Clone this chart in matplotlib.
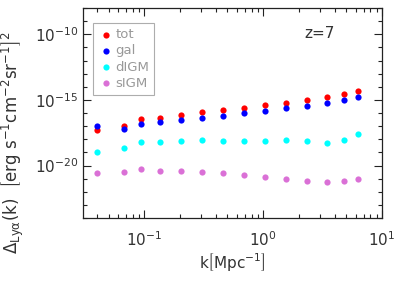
import numpy as np
import matplotlib.pyplot as plt
from matplotlib.ticker import LogLocator, FixedLocator, NullFormatter

# wavenumbers [Mpc^-1]
k = [0.040, 0.067, 0.093, 0.136, 0.205, 0.305, 0.456, 0.684,
     1.03, 1.55, 2.32, 3.45, 4.83, 6.34]

# log10 of Delta_Lya(k)
log_tot = [-17.27, -16.97, -16.46, -16.36, -16.16, -15.96, -15.78, -15.61,
           -15.40, -15.20, -15.00, -14.77, -14.55, -14.30]
log_gal = [-17.02, -17.20, -16.80, -16.72, -16.57, -16.39, -16.21, -16.01,
           -15.81, -15.61, -15.43, -15.20, -14.98, -14.75]
log_digm = [-18.96, -18.66, -18.23, -18.18, -18.11, -18.08, -18.11, -18.11,
            -18.11, -18.08, -18.11, -18.31, -18.08, -17.63]
log_sigm = [-20.58, -20.53, -20.28, -20.40, -20.43, -20.51, -20.58, -20.70,
            -20.86, -21.01, -21.19, -21.29, -21.21, -21.04]

labels = ['tot', 'gal', 'dIGM', 'sIGM']
colors = ['#ff0000', '#0000ff', '#00ffff', '#da70d6']

txt = '#333333'
plt.rcParams['font.family'] = 'DejaVu Sans'

fig = plt.figure(figsize=(3.95, 2.81), dpi=100)
ax = fig.add_axes([83/395, 1-218/281, (382-83)/395, (218-8)/281])

for lg, lab, c in zip([log_tot, log_gal, log_digm, log_sigm], labels, colors):
    ax.scatter(k, 10.0**np.array(lg), s=20, color=c, label=lab, linewidths=0, zorder=3)

ax.set_xscale('log')
ax.set_yscale('log')
ax.set_xlim(0.0305, 10)
ax.set_ylim(1e-24, 1e-8)

ax.yaxis.set_major_locator(FixedLocator([1e-20, 1e-15, 1e-10]))
ax.yaxis.set_minor_locator(FixedLocator([10.0**e for e in range(-24, -7)]))
ax.yaxis.set_minor_formatter(NullFormatter())
ax.xaxis.set_major_locator(LogLocator(base=10, numticks=10))
ax.xaxis.set_minor_locator(LogLocator(base=10, subs=np.arange(2, 10), numticks=20))
ax.xaxis.set_minor_formatter(NullFormatter())

ax.tick_params(which='both', direction='in', top=True, right=True, colors='#222222',
               labelcolor=txt, labelsize=11)
ax.tick_params(which='major', length=6, width=0.8)
ax.tick_params(which='minor', length=3, width=0.8)
ax.tick_params(axis='x', pad=9)
for s in ax.spines.values():
    s.set_linewidth(0.9)
    s.set_color('#222222')

ax.set_xlabel(r'k$\left[\mathrm{Mpc}^{-1}\right]$', fontsize=11, color=txt, labelpad=1)
ax.set_ylabel(r'$\Delta_{\mathrm{Ly\alpha}}$(k)  $\left[\mathrm{erg\ s^{-1}cm^{-2}sr^{-1}}\right]^2$',
              fontsize=12, color=txt)
ax.yaxis.set_label_coords(-0.19, 0.36)

ax.text(0.74, 0.855, 'z=7', transform=ax.transAxes, fontsize=11, color=txt)

leg = ax.legend(loc='upper left', bbox_to_anchor=(0.033, 0.93), fontsize=9.5,
                handletextpad=0.1, borderpad=0.4, labelspacing=0.25, borderaxespad=0,
                fancybox=False, handlelength=1.2, markerscale=1.0)
leg.get_frame().set_edgecolor('#999999')
leg.get_frame().set_linewidth(0.8)
for t in leg.get_texts():
    t.set_color('#999999')

fig.savefig('out.png', dpi=100)
